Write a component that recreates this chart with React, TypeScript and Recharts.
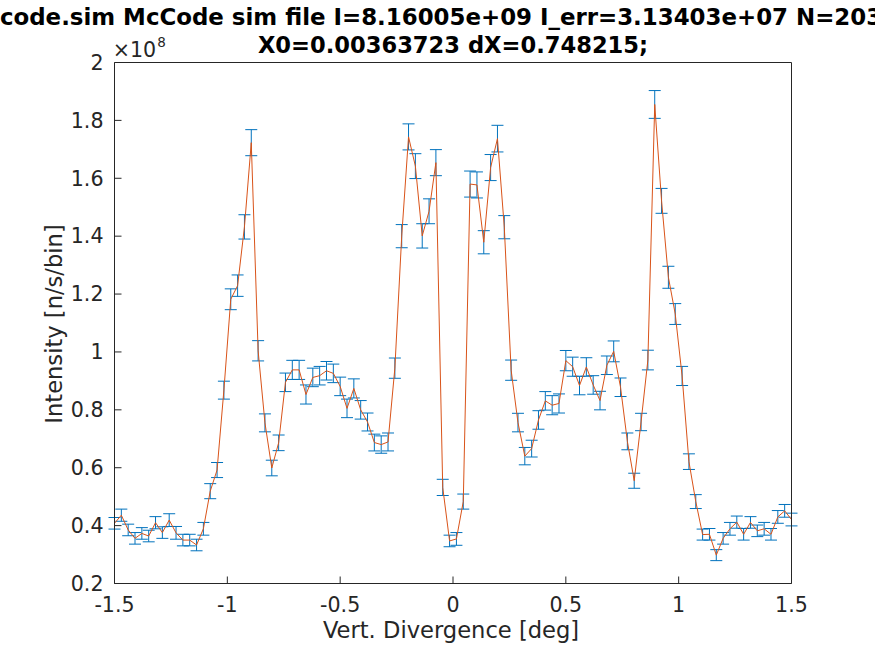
import { ErrorBar, Line, LineChart, XAxis, YAxis } from "recharts";

// bin centres along the vertical divergence axis [deg]
const divergence = [
  -1.5, -1.4697, -1.4394, -1.4091, -1.3788, -1.3485, -1.3182, -1.2879, -1.2576, -1.2273,
  -1.197, -1.1667, -1.1364, -1.1061, -1.0758, -1.0455, -1.0152, -0.9848, -0.9545, -0.9242,
  -0.8939, -0.8636, -0.8333, -0.803, -0.7727, -0.7424, -0.7121, -0.6818, -0.6515, -0.6212,
  -0.5909, -0.5606, -0.5303, -0.5, -0.4697, -0.4394, -0.4091, -0.3788, -0.3485, -0.3182,
  -0.2879, -0.2576, -0.2273, -0.197, -0.1667, -0.1364, -0.1061, -0.0758, -0.0455, -0.0152,
  0.0152, 0.0455, 0.0758, 0.1061, 0.1364, 0.1667, 0.197, 0.2273, 0.2576, 0.2879,
  0.3182, 0.3485, 0.3788, 0.4091, 0.4394, 0.4697, 0.5, 0.5303, 0.5606, 0.5909,
  0.6212, 0.6515, 0.6818, 0.7121, 0.7424, 0.7727, 0.803, 0.8333, 0.8636, 0.8939,
  0.9242, 0.9545, 0.9848, 1.0152, 1.0455, 1.0758, 1.1061, 1.1364, 1.1667, 1.197,
  1.2273, 1.2576, 1.2879, 1.3182, 1.3485, 1.3788, 1.4091, 1.4394, 1.4697, 1.5,
];

// intensity in units of 1e8 n/s/bin
const intensity = [
  0.408, 0.436, 0.385, 0.356, 0.373, 0.364, 0.41, 0.376, 0.419, 0.375,
  0.35, 0.35, 0.333, 0.389, 0.519, 0.592, 0.868, 1.182, 1.229, 1.432,
  1.723, 1.004, 0.755, 0.599, 0.686, 0.895, 0.938, 0.938, 0.853, 0.912,
  0.918, 0.935, 0.926, 0.881, 0.805, 0.874, 0.8, 0.758, 0.687, 0.68,
  0.689, 0.944, 1.4, 1.743, 1.642, 1.401, 1.486, 1.654, 0.532, 0.347,
  0.354, 0.483, 1.58, 1.577, 1.379, 1.637, 1.737, 1.431, 0.937, 0.756,
  0.64, 0.666, 0.765, 0.831, 0.816, 0.822, 0.97, 0.949, 0.884, 0.948,
  0.886, 0.832, 0.954, 1.002, 0.878, 0.691, 0.555, 0.758, 0.972, 1.855,
  1.522, 1.258, 1.131, 0.917, 0.621, 0.483, 0.369, 0.37, 0.298, 0.356,
  0.389, 0.412, 0.37, 0.411, 0.382, 0.389, 0.37, 0.43, 0.451, 0.421,
];

const intensityErr = [
  0.02, 0.021, 0.02, 0.02, 0.02, 0.02, 0.021, 0.02, 0.022, 0.022,
  0.02, 0.02, 0.02, 0.022, 0.026, 0.026, 0.031, 0.036, 0.037, 0.042,
  0.045, 0.035, 0.031, 0.027, 0.027, 0.032, 0.033, 0.033, 0.033, 0.032,
  0.032, 0.032, 0.032, 0.032, 0.032, 0.033, 0.032, 0.031, 0.029, 0.03,
  0.031, 0.035, 0.04, 0.045, 0.043, 0.042, 0.043, 0.045, 0.028, 0.02,
  0.022, 0.026, 0.045, 0.045, 0.04, 0.045, 0.046, 0.04, 0.035, 0.032,
  0.03, 0.029, 0.032, 0.032, 0.033, 0.033, 0.035, 0.033, 0.032, 0.032,
  0.032, 0.032, 0.032, 0.036, 0.032, 0.029, 0.026, 0.03, 0.034, 0.048,
  0.043, 0.038, 0.036, 0.033, 0.027, 0.024, 0.019, 0.02, 0.019, 0.02,
  0.022, 0.021, 0.02, 0.02, 0.02, 0.022, 0.02, 0.022, 0.022, 0.022,
];

const xTicks = [-1.5, -1, -0.5, 0, 0.5, 1, 1.5];
const yTicks = [0.2, 0.4, 0.6, 0.8, 1, 1.2, 1.4, 1.6, 1.8, 2];

const data = divergence.map((x, i) => ({ x, y: intensity[i], err: intensityErr[i] }));

const FONT = "DejaVu Sans";
const INK = "#262626";
const tickStyle = { fill: INK, fontSize: 20.6, fontFamily: FONT };

export default function App() {
  return (
    <div style={{ position: "absolute", left: 0, top: 0, width: 875, height: 656, background: "#fff" }}>
      <LineChart
        width={875}
        height={656}
        data={data}
        margin={{ top: 61.5, right: 82.5, bottom: 0, left: 0 }}
      >
        <XAxis
          type="number"
          dataKey="x"
          domain={[-1.5, 1.5]}
          ticks={xTicks}
          height={72.5}
          tickSize={-7}
          tickMargin={21}
          stroke={INK}
          tick={tickStyle}
          tickFormatter={(v) => String(v)}
          allowDataOverflow
        />
        {/* top and right axes only close the box and carry inward ticks */}
        <XAxis
          xAxisId="top"
          orientation="top"
          type="number"
          domain={[-1.5, 1.5]}
          ticks={xTicks}
          height={1}
          tickSize={-7}
          stroke={INK}
          tick={false}
          allowDataOverflow
        />
        <YAxis
          type="number"
          domain={[0.2, 2]}
          ticks={yTicks}
          width={114.5}
          tickSize={-7}
          tickMargin={18}
          stroke={INK}
          tick={tickStyle}
          tickFormatter={(v) => String(v)}
          allowDataOverflow
        />
        <YAxis
          yAxisId="right"
          orientation="right"
          type="number"
          domain={[0.2, 2]}
          ticks={yTicks}
          width={1}
          tickSize={-7}
          stroke={INK}
          tick={false}
          allowDataOverflow
        />
        <Line dataKey="y" stroke="none" dot={false} activeDot={false} isAnimationActive={false}>
          <ErrorBar dataKey="err" width={6} stroke="#0072BD" strokeWidth={1} direction="y" isAnimationActive={false} />
        </Line>
        <Line
          type="linear"
          dataKey="y"
          stroke="#D95319"
          strokeWidth={1}
          dot={false}
          activeDot={false}
          isAnimationActive={false}
        />
      </LineChart>
      <svg
        width={875}
        height={656}
        style={{ position: "absolute", left: 0, top: 0, pointerEvents: "none" }}
        fontFamily={FONT}
      >
        <text x={-37.5} y={25} fontSize={22.9} fontWeight="bold" fill="#000">
          mccode.sim McCode sim file I=8.16005e+09 I_err=3.13403e+07 N=2034574
        </text>
        <text x={453} y={53} fontSize={22.6} fontWeight="bold" fill="#000" textAnchor="middle">
          X0=0.00363723 dX=0.748215;
        </text>
        <text x={112.7} y={56.7} fontSize={20.6} fill={INK}>
          ×10
        </text>
        <text x={157.3} y={46.7} fontSize={13.5} fill={INK}>
          8
        </text>
        <text x={451} y={638} fontSize={22.6} fill={INK} textAnchor="middle">
          Vert. Divergence [deg]
        </text>
        <text x={0} y={0} fontSize={22.6} fill={INK} textAnchor="middle" transform="translate(62 324) rotate(-90)">
          Intensity [n/s/bin]
        </text>
      </svg>
    </div>
  );
}
